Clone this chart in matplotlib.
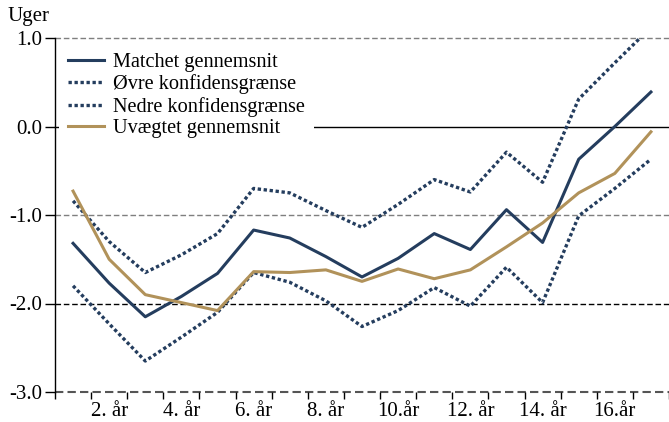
import matplotlib

matplotlib.use("Agg")
import matplotlib.pyplot as plt
import numpy as np

# Data (weeks), one value per year 1..17
years = np.arange(1, 18)
matched = [-1.32, -1.77, -2.15, -1.92, -1.66, -1.17, -1.26, -1.47, -1.70,
           -1.49, -1.21, -1.39, -0.94, -1.31, -0.37, 0.00, 0.39]
upper = [-0.84, -1.30, -1.65, -1.45, -1.21, -0.70, -0.75, -0.95, -1.14,
         -0.88, -0.60, -0.74, -0.29, -0.63, 0.31, 0.72, 1.12]
lower = [-1.80, -2.23, -2.65, -2.38, -2.10, -1.65, -1.76, -1.97, -2.26,
         -2.08, -1.82, -2.03, -1.59, -1.99, -1.01, -0.70, -0.37]
unweighted = [-0.73, -1.50, -1.90, -1.99, -2.08, -1.64, -1.65, -1.62, -1.75,
              -1.61, -1.72, -1.62, -1.36, -1.09, -0.75, -0.53, -0.06]

xtick_pos = [2, 4, 6, 8, 10, 12, 14, 16]
xtick_labels = ["2. år", "4. år", "6. år", "8. år", "10.år", "12. år", "14. år", "16.år"]
yticks = [1.0, 0.0, -1.0, -2.0, -3.0]

NAVY = "#243d5e"
GOLD = "#b1925a"

plt.rcParams.update(
    {
        "font.family": ["Liberation Serif", "DejaVu Serif"],
        "font.size": 15,
    }
)

fig = plt.figure(figsize=(6.69, 4.22), dpi=100)
ax = fig.add_axes([55 / 669, 1 - 392 / 422, 1 - 55 / 669, 354 / 422])

# Horizontal reference lines
grid_styles = {
    1.0: dict(color="#7f7f7f", ls=(0, (4, 2)), lw=1.0),
    0.0: dict(color="black", ls="-", lw=1.0),
    -1.0: dict(color="#7f7f7f", ls=(0, (4, 2)), lw=1.0),
    -2.0: dict(color="black", ls=(0, (4, 2)), lw=1.0),
    -3.0: dict(color="#555555", ls=(0, (4, 2)), lw=1.5),
}
for y, st in grid_styles.items():
    ax.axhline(y, zorder=1, clip_on=False, **st)

dot = (0, (1, 0.8))
ax.plot(years, matched, color=NAVY, lw=2.2, label="Matchet gennemsnit", zorder=4)
ax.plot(years, upper, color=NAVY, lw=2.4, ls=dot, label="Øvre konfidensgrænse", zorder=3)
ax.plot(years, lower, color=NAVY, lw=2.4, ls=dot, label="Nedre konfidensgrænse", zorder=3)
ax.plot(years, unweighted, color=GOLD, lw=2.2, label="Uvægtet gennemsnit", zorder=4)

ax.set_xlim(0.5, 17.5)
ax.set_ylim(-3.0, 1.0)

ax.set_yticks(yticks)
ax.set_yticklabels([f"{v:.1f}" for v in yticks])
ax.set_xticks(np.arange(0.5, 17.6, 1.0))
ax.set_xticklabels([])
ax.set_xticks(xtick_pos, minor=True)
ax.set_xticklabels(xtick_labels, minor=True)
ax.tick_params(axis="x", which="major", length=5, width=1, direction="out")
ax.tick_params(axis="x", which="minor", length=0, pad=7)
ax.tick_params(axis="y", length=7, width=1, direction="out", pad=2)

for side in ["top", "right", "bottom"]:
    ax.spines[side].set_visible(False)
ax.spines["left"].set_linewidth(1.0)

fig.text(8 / 669, 1 - 17 / 422, "Uger", ha="left", va="center", fontsize=15)

leg = ax.legend(
    loc="upper left",
    bbox_to_anchor=(0.0, 0.995),
    frameon=True,
    fancybox=False,
    framealpha=1,
    edgecolor="none",
    facecolor="white",
    fontsize=14.6,
    handlelength=1.75,
    handletextpad=0.45,
    labelspacing=0.12,
    borderpad=0.45,
    borderaxespad=0.2,
)
leg.set_zorder(5)

fig.savefig("out.png", dpi=100)
